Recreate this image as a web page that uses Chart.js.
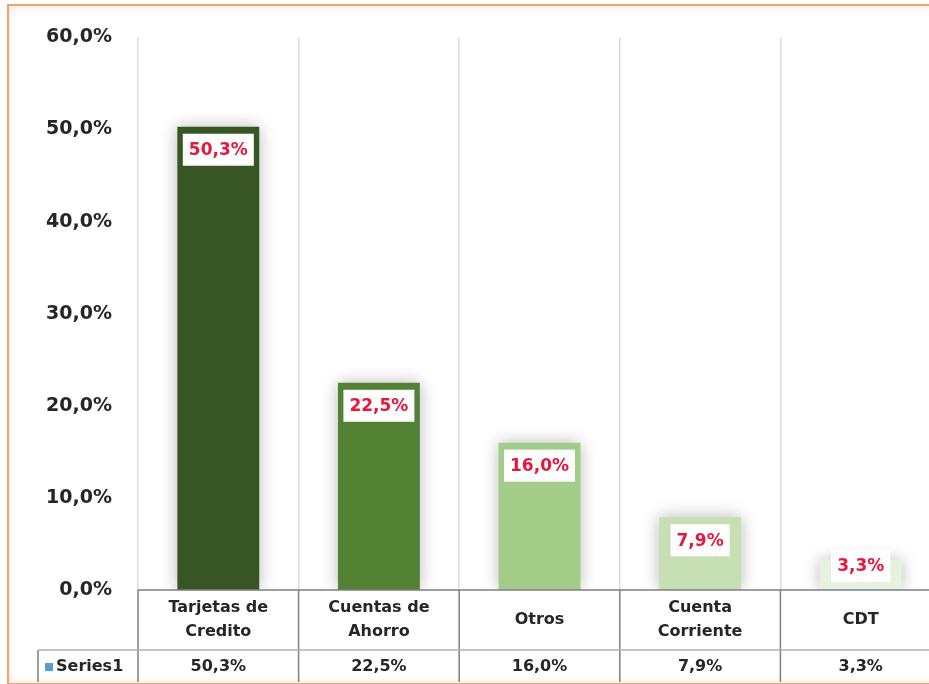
<!DOCTYPE html>
<html>
<head>
<meta charset="utf-8">
<script src="https://cdn.jsdelivr.net/npm/chart.js@4/dist/chart.umd.min.js"></script>
<style>
  html, body { margin: 0; padding: 0; background: #fff; overflow: hidden; }
  #frame {
    position: absolute; left: 7px; top: 4px; width: 1000px; height: 677px;
    border: 2px solid #eea56c;
    box-shadow: inset 0 0 10px rgba(244, 177, 131, 0.35);
  }
  #wrap { position: absolute; left: 0; top: 0; width: 960px; height: 684px; }
</style>
</head>
<body>
<div id="frame"></div>
<div id="wrap"><canvas id="chart" width="960" height="684"></canvas></div>
<script>
// datos del grafico
const categories = [["Tarjetas de", "Credito"], ["Cuentas de", "Ahorro"], ["Otros"], ["Cuenta", "Corriente"], ["CDT"]];
const values = [50.3, 22.5, 16.0, 7.9, 3.3];
const barColors = ["#375623", "#548235", "#a2cc88", "#c6e0b4", "#e6f1df"];
const seriesName = "Series1";

const FONT = "'DejaVu Sans', sans-serif";

function fmt(v) {
  return v.toFixed(1).replace(".", ",") + "%";
}

// sombra de las barras + etiquetas + tabla de datos
const tablePlugin = {
  id: "tablePlugin",
  beforeDatasetsDraw(chart) {
    const ctx = chart.ctx;
    ctx.save();
    ctx.shadowColor = "rgba(0,0,0,0.28)";
    ctx.shadowBlur = 16;
  },
  afterDatasetsDraw(chart) {
    const ctx = chart.ctx;
    ctx.restore();
    const meta = chart.getDatasetMeta(0);
    const base = chart.scales.y.getPixelForValue(0);
    ctx.save();
    ctx.font = "bold 17px " + FONT;
    ctx.textAlign = "center";
    ctx.textBaseline = "middle";
    meta.data.forEach(function (bar, i) {
      const txt = fmt(values[i]);
      const w = ctx.measureText(txt).width + 12;
      const h = 32;
      let top = bar.y + 7;
      if (top + h > base - 8) top = base - 8 - h;
      ctx.fillStyle = "#ffffff";
      ctx.fillRect(bar.x - w / 2, top, w, h);
      ctx.fillStyle = "#e8173a";
      ctx.fillText(txt, bar.x, top + h / 2 + 1);
    });
    ctx.restore();
  },
  afterDraw(chart) {
    const ctx = chart.ctx;
    const x = chart.scales.x;
    const area = chart.chartArea;
    const top = area.bottom;
    const mid = top + 60;
    const bottom = 682;
    const n = categories.length;
    const step = x.getPixelForValue(1) - x.getPixelForValue(0);
    const left = x.getPixelForValue(0) - step / 2;

    ctx.save();
    // lineas
    ctx.lineWidth = 1.5;
    ctx.strokeStyle = "#7f7f7f";
    ctx.beginPath();
    ctx.moveTo(left, top); ctx.lineTo(chart.width, top);
    for (let i = 0; i <= n; i++) {
      const lx = left + i * step;
      ctx.moveTo(lx, top); ctx.lineTo(lx, bottom);
    }
    ctx.moveTo(38, mid); ctx.lineTo(38, bottom);
    ctx.stroke();
    ctx.strokeStyle = "#b0b0b0";
    ctx.beginPath();
    ctx.moveTo(38, mid); ctx.lineTo(chart.width, mid);
    ctx.stroke();

    // categorias
    ctx.fillStyle = "#262626";
    ctx.font = "bold 16px " + FONT;
    ctx.textAlign = "center";
    ctx.textBaseline = "middle";
    categories.forEach(function (lines, i) {
      const cx = x.getPixelForValue(i);
      const lh = 24;
      const y0 = (top + mid) / 2 - (lines.length - 1) * lh / 2;
      lines.forEach(function (t, j) {
        ctx.fillText(t, cx, y0 + j * lh);
      });
    });

    // fila de valores
    const rowY = (mid + bottom) / 2 + 1;
    values.forEach(function (v, i) {
      ctx.fillText(fmt(v), x.getPixelForValue(i), rowY);
    });
    ctx.fillStyle = "#5b9bd5";
    ctx.fillRect(45, rowY - 4, 8, 8);
    ctx.fillStyle = "#262626";
    ctx.textAlign = "left";
    ctx.fillText(seriesName, 56, rowY);
    ctx.restore();
  }
};

const ctx = document.getElementById("chart").getContext("2d");
new Chart(ctx, {
  type: "bar",
  data: {
    labels: categories,
    datasets: [{
      label: seriesName,
      data: values,
      backgroundColor: barColors,
      borderWidth: 0,
      categoryPercentage: 1,
      barPercentage: 0.51
    }]
  },
  options: {
    responsive: false,
    animation: false,
    layout: { padding: { top: 36, right: 19, left: 0, bottom: 0 } },
    plugins: { legend: { display: false }, tooltip: { enabled: false } },
    scales: {
      x: {
        afterFit: function (s) { s.height = 94; },
        ticks: { display: false },
        grid: { color: "#dcdcdc", lineWidth: 1.5, drawTicks: false },
        border: { display: false }
      },
      y: {
        min: 0,
        max: 60,
        afterFit: function (s) { s.width = 138; },
        ticks: {
          stepSize: 10,
          padding: 26,
          color: "#262626",
          font: { family: FONT, size: 19, weight: "bold" },
          callback: function (v) { return fmt(v); }
        },
        grid: { display: false, drawTicks: false },
        border: { display: false }
      }
    }
  },
  plugins: [tablePlugin]
});
</script>
</body>
</html>
